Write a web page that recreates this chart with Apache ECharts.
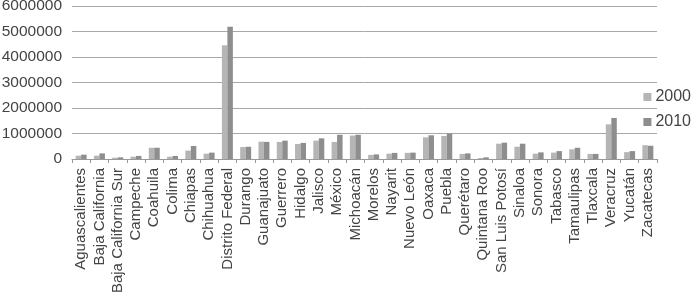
<!DOCTYPE html>
<html><head><meta charset="utf-8">
<script src="https://cdn.jsdelivr.net/npm/echarts@6/dist/echarts.min.js"></script>
<style>html,body{margin:0;padding:0;background:#fff}#c{width:694px;height:293px}</style>
</head><body><div id="c"></div>
<script>
const categories = ["Aguascalientes","Baja California","Baja California Sur","Campeche","Coahuila","Colima","Chiapas","Chihuahua","Distrito Federal","Durango","Guanajuato","Guerrero","Hidalgo","Jalisco","México","Michoacán","Morelos","Nayarit","Nuevo León","Oaxaca","Puebla","Querétaro","Quintana Roo","San Luis Potosí","Sinaloa","Sonora","Tabasco","Tamaulipas","Tlaxcala","Veracruz","Yucatán","Zacatecas"];
const values2000 = [130000,130000,50000,90000,440000,90000,330000,210000,4460000,470000,680000,670000,590000,720000,670000,920000,160000,210000,240000,850000,900000,200000,40000,600000,480000,210000,250000,380000,200000,1360000,270000,540000];
const values2010 = [170000,220000,65000,120000,440000,120000,510000,250000,5190000,480000,670000,720000,630000,810000,950000,950000,180000,240000,250000,930000,1000000,220000,65000,640000,600000,260000,310000,440000,200000,1610000,310000,520000];
const yTicks = [0,1000000,2000000,3000000,4000000,5000000,6000000];
const seriesNames = ["2000","2010"];

const chart = echarts.init(document.getElementById('c'), null, {renderer:'canvas'});
const font = 'Liberation Sans';
chart.setOption({
  animation:false,
  grid:{left:72,right:37,top:6,bottom:134,containLabel:false,outerBoundsMode:'none'},
  legend:{
    orient:'vertical', right:3, top:89, padding:0, itemWidth:8, itemHeight:8, itemGap:9,
    icon:'rect',
    textStyle:{fontFamily:font,fontSize:16,color:'#444',padding:[0,0,0,-1]},
    data:seriesNames
  },
  xAxis:{
    type:'category', data:categories,
    axisLine:{lineStyle:{color:'#999',width:1}},
    axisTick:{show:true,length:4,lineStyle:{color:'#999'}},
    axisLabel:{rotate:90,interval:0,fontFamily:font,fontSize:15,color:'#444',margin:9}
  },
  yAxis:{
    type:'value', min:yTicks[0], max:yTicks[yTicks.length-1], interval:1000000,
    axisLine:{show:false}, axisTick:{show:false},
    splitLine:{lineStyle:{color:'#a8a8a8',width:1}},
    axisLabel:{fontFamily:font,fontSize:15.5,color:'#444',margin:10,formatter:v=>String(v)}
  },
  series:[
    {name:seriesNames[0],type:'bar',data:values2000,itemStyle:{color:'#b5b5b5'},barGap:'0%',barCategoryGap:'40%'},
    {name:seriesNames[1],type:'bar',data:values2010,itemStyle:{color:'#8e8e8e'},barGap:'0%',barCategoryGap:'40%'}
  ]
});
</script></body></html>
